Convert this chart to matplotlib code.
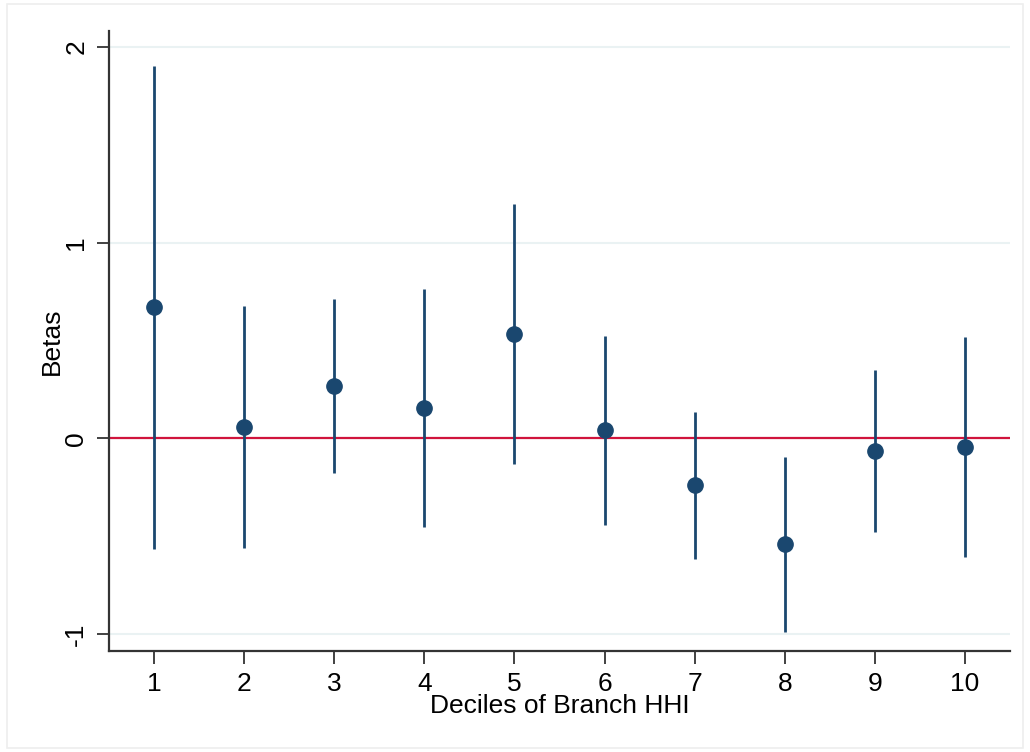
import numpy as np
import matplotlib.pyplot as plt
from matplotlib.patches import Rectangle

plt.rcParams["font.family"] = ["Liberation Sans", "DejaVu Sans"]

# coefficient estimates per decile of branch HHI, with 95% CI bounds
deciles = [1, 2, 3, 4, 5, 6, 7, 8, 9, 10]
betas = [0.669, 0.060, 0.268, 0.157, 0.535, 0.043, -0.240, -0.540, -0.063, -0.044]
ci_low = [-0.565, -0.557, -0.175, -0.451, -0.131, -0.441, -0.613, -0.986, -0.477, -0.605]
ci_high = [1.903, 0.678, 0.712, 0.763, 1.198, 0.521, 0.133, -0.097, 0.350, 0.516]
yticks = [-1, 0, 1, 2]

NAVY = "#1a476f"
RED = "#d0143c"
AXC = "#333333"

fig = plt.figure(figsize=(10.30, 7.52), dpi=100)
# faint outer frame like the stata graph region
fig.patches.append(Rectangle((7 / 1030, 0.005), 1 - 14 / 1030, 1 - 4 / 752 - 0.005,
                             transform=fig.transFigure, fill=False,
                             edgecolor="#eeeeee", lw=1.2))
ax = fig.add_axes([109 / 1030, 1 - 651 / 752, (1010 - 109) / 1030, (651 - 31) / 752])

for y in yticks:
    ax.axhline(y, color="#eaf2f3", lw=1.5, zorder=0)
ax.axhline(0, color=RED, lw=1.6, zorder=1)

ax.vlines(deciles, ci_low, ci_high, color=NAVY, lw=2.0, zorder=2)
ax.plot(deciles, betas, "o", color=NAVY, ms=11, zorder=3)

ax.set_xlim(0.5, 10.5)
ax.set_ylim(-1.085, 2.08)
ax.set_xticks(deciles)
ax.set_yticks(yticks)
ax.set_yticklabels([str(v) for v in yticks], rotation=90, va="center")

for s in ["top", "right"]:
    ax.spines[s].set_visible(False)
for s in ["left", "bottom"]:
    ax.spines[s].set_color(AXC)
    ax.spines[s].set_linewidth(1.6)
ax.tick_params(axis="both", length=9, width=1.3, color=AXC, labelsize=19, pad=6)
ax.tick_params(axis="y", pad=6)

ax.set_xlabel("Deciles of Branch HHI", fontsize=19, labelpad=-1)
ax.set_ylabel("Betas", fontsize=19, labelpad=0)

fig.savefig("out.png", dpi=100)
